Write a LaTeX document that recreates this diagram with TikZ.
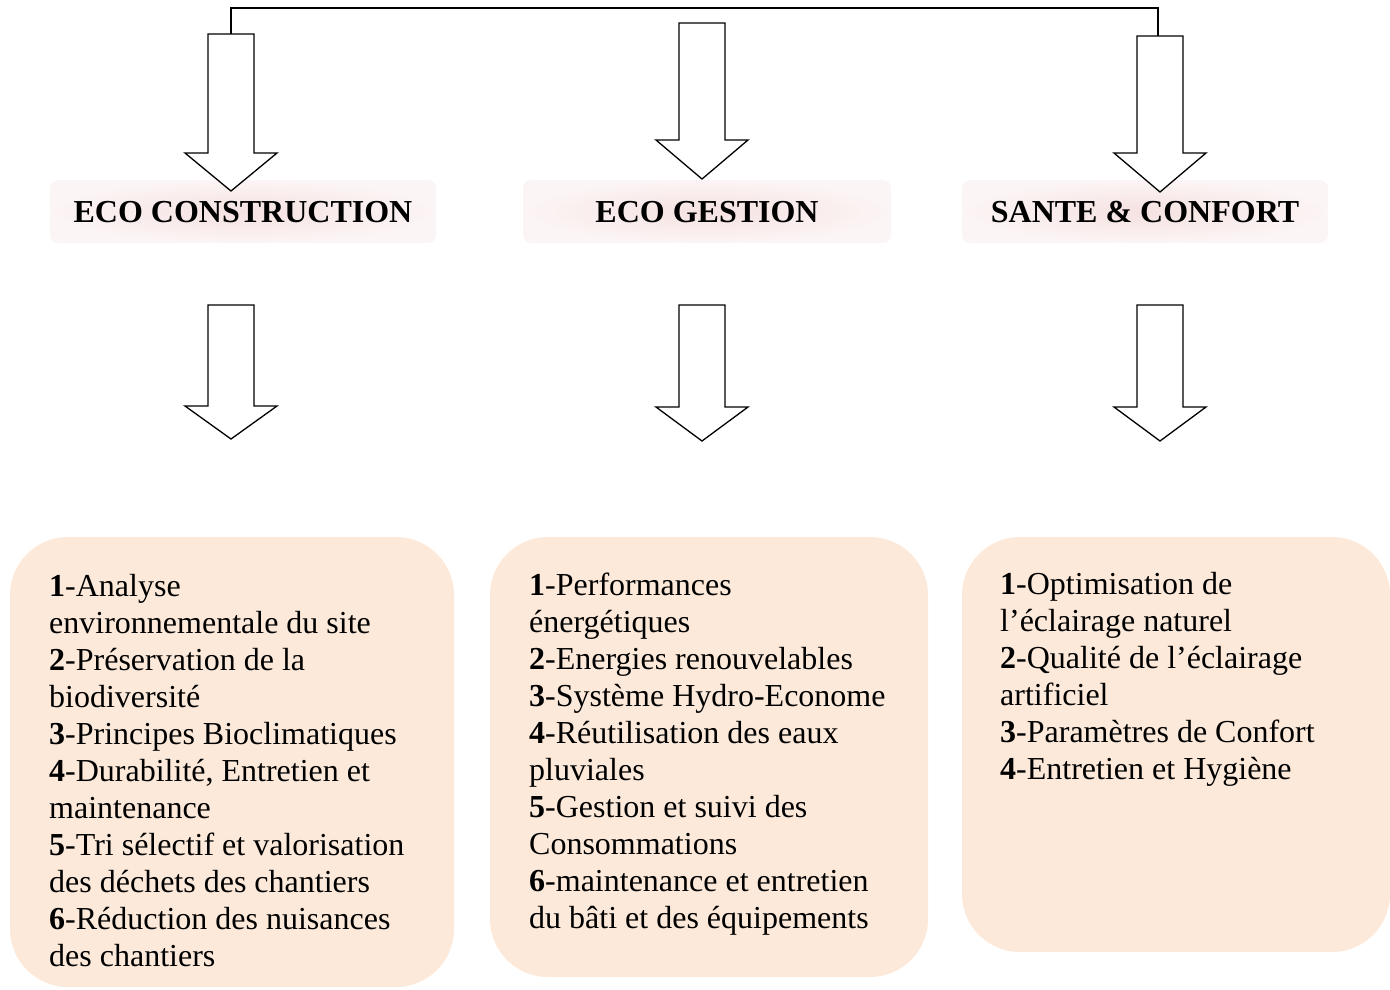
\documentclass[tikz,border=0pt]{standalone}
\usepackage{fontspec}
\setmainfont{Liberation Serif}
\definecolor{boxfill}{RGB}{252,233,218}
\definecolor{hdrout}{RGB}{252,245,245}
\definecolor{hdrin}{RGB}{245,225,225}
\newcommand\blockarrow[4]{%
  \draw[arrowshape] (#1-23,#2) -- (#1+23,#2) -- (#1+23,#3) -- (#1+46,#3) -- (#1,#4) -- (#1-46,#3) -- (#1-23,#3) -- cycle;}
\begin{document}
\begin{tikzpicture}[x=1pt,y=-1pt,
  arrowshape/.style={draw=black, fill=white, line width=1.3pt, line join=miter},
  conn/.style={draw=black, line width=1.3pt},
  listbox/.style={fill=boxfill, rounded corners=58pt},
  hdrbox/.style={rounded corners=8pt, inner color=hdrin, outer color=hdrout},
  hdrtext/.style={font=\fontsize{32}{37}\selectfont\bfseries, inner sep=0pt, anchor=base},
  listtext/.style={font=\fontsize{32}{37}\selectfont, inner sep=0pt, anchor=base west}
]
\useasboundingbox (0,0) rectangle (1390,989);

% header boxes
\shade[hdrbox] (50,180) rectangle (436,243);
\shade[hdrbox] (523,180) rectangle (891,243);
\shade[hdrbox] (962,180) rectangle (1328,243);
\node[hdrtext] (h1) at (243,222) {ECO CONSTRUCTION};
\node[hdrtext] (h2) at (707,222) {ECO GESTION};
\node[hdrtext] (h3) at (1145,222) {SANTE \& CONFORT};

% list boxes
\fill[listbox] (10,537) rectangle (454,987);
\fill[listbox] (490,537) rectangle (928,977);
\fill[listbox] (962,537) rectangle (1390,952);

\node[listtext] (l1) at (49,596) {\parbox[t]{420pt}{\raggedright
\textbf{1}-Analyse\\
environnementale du site\\
\textbf{2}-Préservation de la\\
biodiversité\\
\textbf{3}-Principes Bioclimatiques\\
\textbf{4}-Durabilité, Entretien et\\
maintenance\\
\textbf{5}-Tri sélectif et valorisation\\
des déchets des chantiers\\
\textbf{6}-Réduction des nuisances\\
des chantiers}};

\node[listtext] (l2) at (529,595) {\parbox[t]{420pt}{\raggedright
\textbf{1}-Performances\\
énergétiques\\
\textbf{2}-Energies renouvelables\\
\textbf{3}-Système Hydro-Econome\\
\textbf{4}-Réutilisation des eaux\\
pluviales\\
\textbf{5}-Gestion et suivi des\\
Consommations\\
\textbf{6}-maintenance et entretien\\
du bâti et des équipements}};

\node[listtext] (l3) at (1000,594) {\parbox[t]{400pt}{\raggedright
\textbf{1}-Optimisation de\\
l’éclairage naturel\\
\textbf{2}-Qualité de l’éclairage\\
artificiel\\
\textbf{3}-Paramètres de Confort\\
\textbf{4}-Entretien et Hygiène}};

% connector
\coordinate (a1) at (231,34);
\coordinate (a3) at (1158,36);
\draw[conn] (a1) -- ++(0,-26) -| (a3);

% top arrows
\blockarrow{231}{34}{153}{191}
\blockarrow{702}{23}{140}{179}
\blockarrow{1160}{36}{153}{192}

% second row arrows
\blockarrow{231}{305}{406}{439}
\blockarrow{702}{305}{407}{441}
\blockarrow{1160}{305}{407}{441}
\end{tikzpicture}
\end{document}
